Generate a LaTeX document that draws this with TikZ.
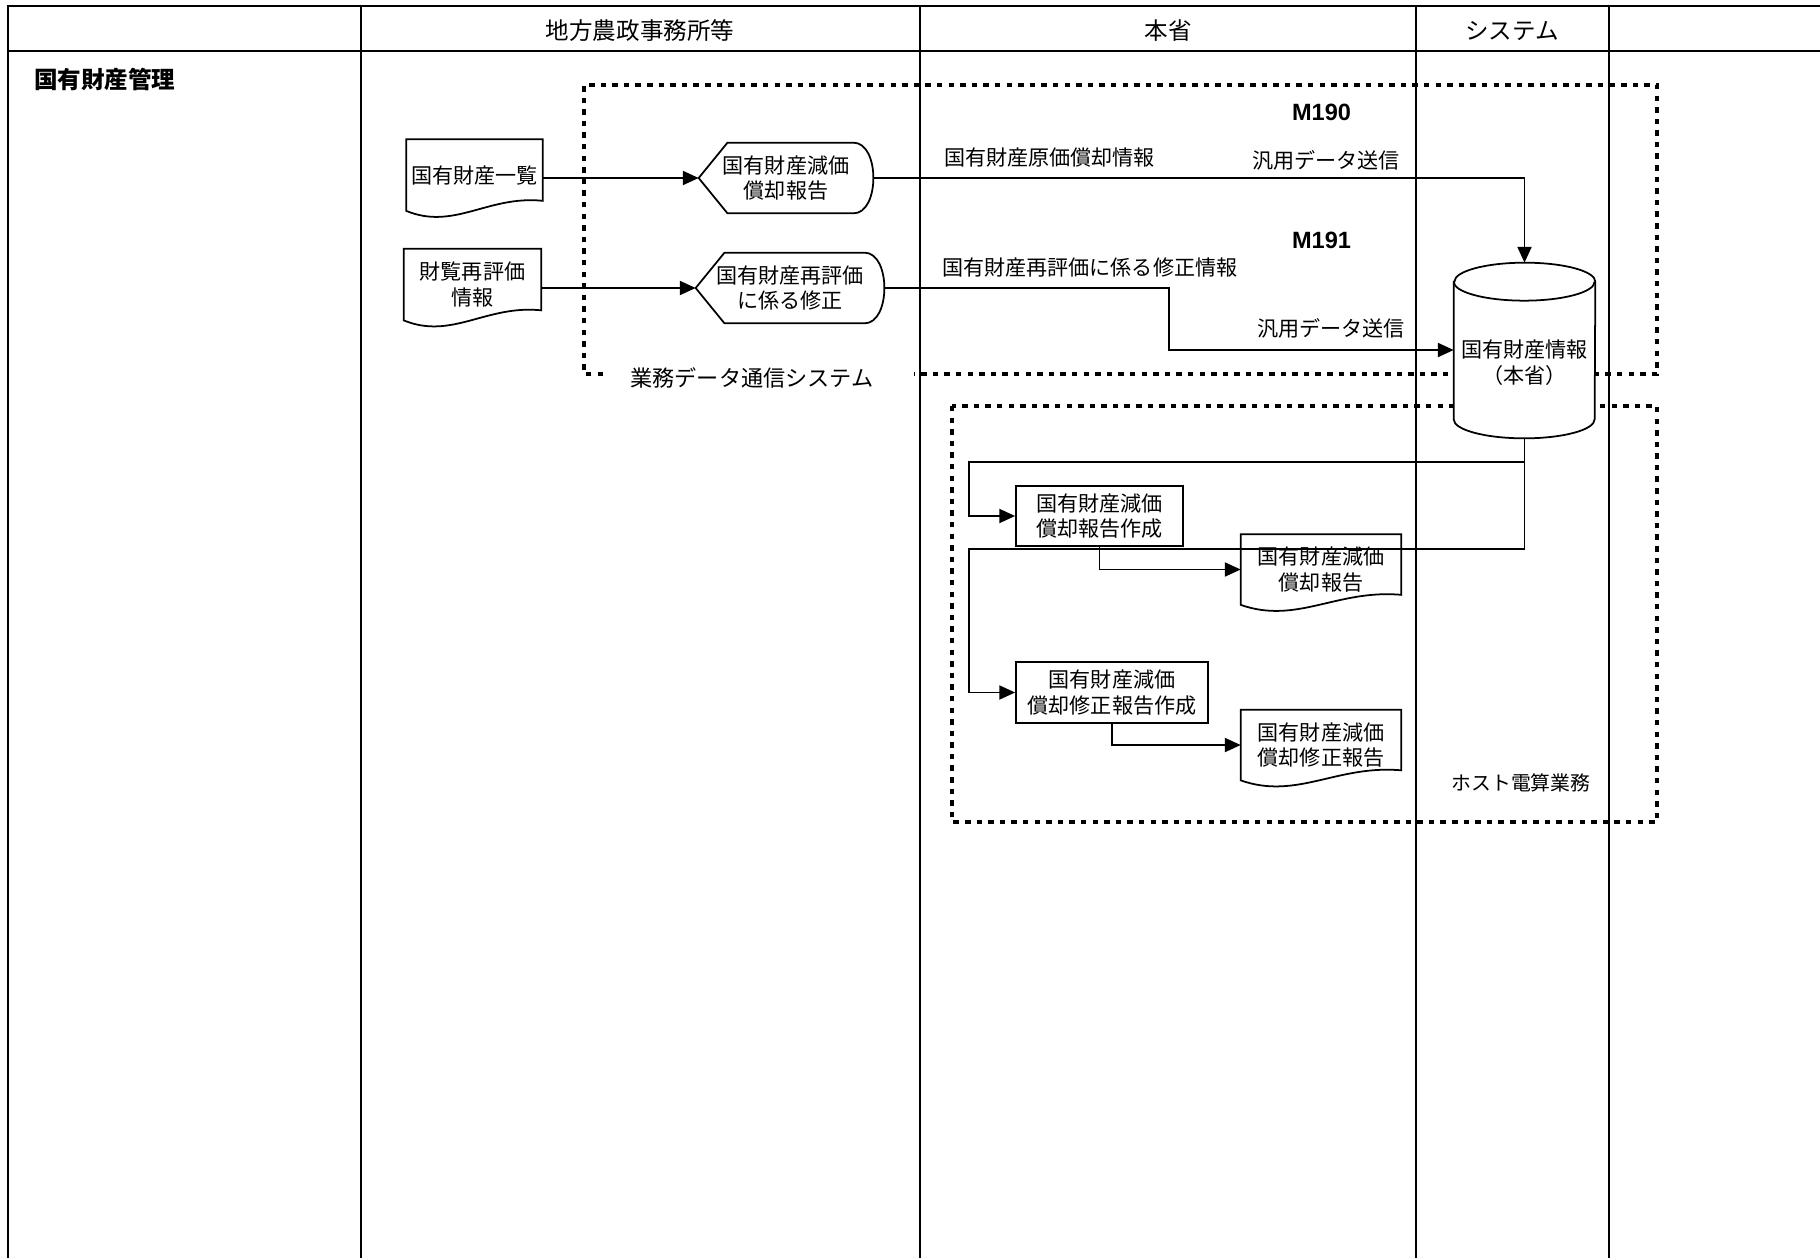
\documentclass[tikz,border=0pt]{standalone}
\usepackage{fontspec}
\setmainfont{Noto Sans CJK JP}
\newfontfamily\arialfont{Liberation Sans}
\usetikzlibrary{arrows.meta, calc, positioning}
\pgfdeclarelayer{waku}
\pgfdeclarelayer{zukei}
\pgfsetlayers{waku,zukei,main}

% 帳票（下辺が波形）
\newcommand{\chohyo}[1]{%
  \draw[zu] (#1.north west) -- (#1.south west)
    .. controls ($(#1.south west)!0.35!(#1.south east)+(0pt,-11.3pt)$)
    and ($(#1.south west)!0.6!(#1.south east)+(0pt,9pt)$)
    .. ([yshift=5.7pt]#1.south east) -- (#1.north east) -- cycle;}
% 表示
\newcommand{\hyoji}[1]{%
  \draw[zu] (#1.west) -- ([xshift=16.4pt]#1.north west) -- ([xshift=-11.3pt]#1.north east)
    .. controls ([xshift=3.8pt]#1.north east) and ([xshift=3.8pt]#1.south east)
    .. ([xshift=-11.3pt]#1.south east) -- ([xshift=16.4pt]#1.south west) -- cycle;}
% 磁気ディスク
\newcommand{\tsutsu}[1]{%
  \draw[zu] ([yshift=0.1cm]#1.north west) -- ([yshift=0.38cm]#1.south west)
    arc[start angle=180, end angle=360, x radius=1.41cm, y radius=0.38cm]
    -- ([yshift=0.1cm]#1.north east)
    arc[start angle=0, end angle=180, x radius=1.41cm, y radius=0.38cm] -- cycle;
  \draw[zu, fill=none] ([yshift=0.1cm]#1.north west)
    arc[start angle=180, end angle=360, x radius=1.41cm, y radius=0.38cm];}

\begin{document}
\begin{tikzpicture}[x=0.02cm, y=-0.02cm,
    >={Triangle[length=9pt, width=8pt]},
    font=\fontsize{12pt}{14.5pt}\selectfont,
    hyo/.style={line width=1.1pt},
    waku/.style={line width=2.8pt, dash pattern=on 3.1pt off 3.5pt},
    zu/.style={line width=1pt, fill=white},
    katachi/.style={draw=none, inner sep=2pt, align=center},
    hako/.style={draw, line width=1pt, fill=white, inner sep=2pt, align=center},
    sen/.style={line width=1pt, ->},
    midashi/.style={font=\fontsize{13.4pt}{16pt}\selectfont}]
  \useasboundingbox (0,0) rectangle (1820,1258);

  % 表
  \begin{pgfonlayer}{waku}
    \draw[hyo] (8,1258) -- (8,6) -- (1820,6);
    \draw[hyo, line width=1.6pt] (8,51) -- (1820,51);
    \foreach \x in {361,920,1416,1609}
      \draw[hyo] (\x,6) -- (\x,1258);
    \draw[waku] (603,374) -- (584,374) -- (584,85) -- (1657,85) -- (1657,374) -- (914,374);
    \draw[waku] (952,406) rectangle (1657,822);
  \end{pgfonlayer}
  \node[midashi] (hd1) at (640,31) {地方農政事務所等};
  \node[midashi] (hd2) at (1168,31) {本省};
  \node[midashi] (hd3) at (1512,31) {システム};
  \node[midashi, anchor=west, font=\fontsize{13.4pt}{16pt}\selectfont\bfseries] (title) at (28,79) {国有財産管理};

  % 地方農政事務所等
  \node[katachi, minimum width=2.72cm, minimum height=1.42cm] (list) at (474.5,175) {国有財産一覧};
  \node[katachi, minimum width=2.74cm, minimum height=1.42cm] (reval) at (472.5,284.5) {財覧再評価\\情報};
  \node[katachi, minimum width=3.48cm, minimum height=1.4cm] (disp1) at (786,178) {国有財産減価\\償却報告};
  \node[katachi, minimum width=3.76cm, minimum height=1.4cm] (disp2) at (790,288) {国有財産再評価\\に係る修正};

  % システム
  \node[katachi, minimum width=2.82cm, minimum height=3.02cm] (db) at (1524.5,362.5) {国有財産情報\\（本省）};
  \coordinate (dbtop) at ([yshift=0.48cm]db.north);

  % ホスト電算業務
  \node[hako, minimum width=3.34cm, minimum height=1.2cm] (make1) at (1099.5,516) {国有財産減価\\償却報告作成};
  \node[hako, minimum width=3.84cm, minimum height=1.22cm] (make2) at (1112,692.5) {国有財産減価\\償却修正報告作成};
  \node[katachi, minimum width=3.2cm, minimum height=1.4cm] (rep1) at (1321,569.5) {国有財産減価\\償却報告};
  \node[katachi, minimum width=3.2cm, minimum height=1.4cm] (rep2) at (1321,745) {国有財産減価\\償却修正報告};

  \begin{pgfonlayer}{zukei}
    \chohyo{list} \chohyo{reval} \chohyo{rep1} \chohyo{rep2}
    \hyoji{disp1} \hyoji{disp2}
    \tsutsu{db}
  \end{pgfonlayer}

  % ラベル
  \node[font=\fontsize{13.4pt}{16pt}\arialfont\bfseries] (m190) at (1321.5,112) {M190};
  \node[font=\fontsize{13.4pt}{16pt}\arialfont\bfseries] (m191) at (1321.5,240) {M191};
  \node[anchor=west] (lblgenka) at (938,158) {国有財産原価償却情報};
  \node[anchor=east] (lblsoshin1) at (1406,160) {汎用データ送信};
  \node[anchor=west] (lblshusei) at (936,267) {国有財産再評価に係る修正情報};
  \node[anchor=east] (lblsoshin2) at (1411,328) {汎用データ送信};
  \node[font=\fontsize{12.6pt}{15pt}\selectfont] (gyomu) at (752,378) {業務データ通信システム};
  \node[font=\fontsize{11.3pt}{14pt}\selectfont] (host) at (1521,783) {ホスト電算業務};

  % 接続
  \coordinate (bend) at (1169,350);
  \coordinate (j1) at (969,462);
  \coordinate (j2) at (969,549);
  \draw[sen] (list.east |- disp1.west) -- (disp1.west);
  \draw[sen] (reval.east |- disp2.west) -- (disp2.west);
  \draw[sen] (disp1.east) -| (dbtop);
  \draw[sen] (disp2.east) -| (bend) -- ([yshift=0.25cm]db.west);
  \draw[sen] (db.south) |- (j1) |- (make1.west);
  \draw[sen] (db.south) |- (j2) |- (make2.west);
  \draw[sen] (make1.south) |- (rep1.west);
  \draw[sen] (make2.south) |- (rep2.west);
\end{tikzpicture}
\end{document}
